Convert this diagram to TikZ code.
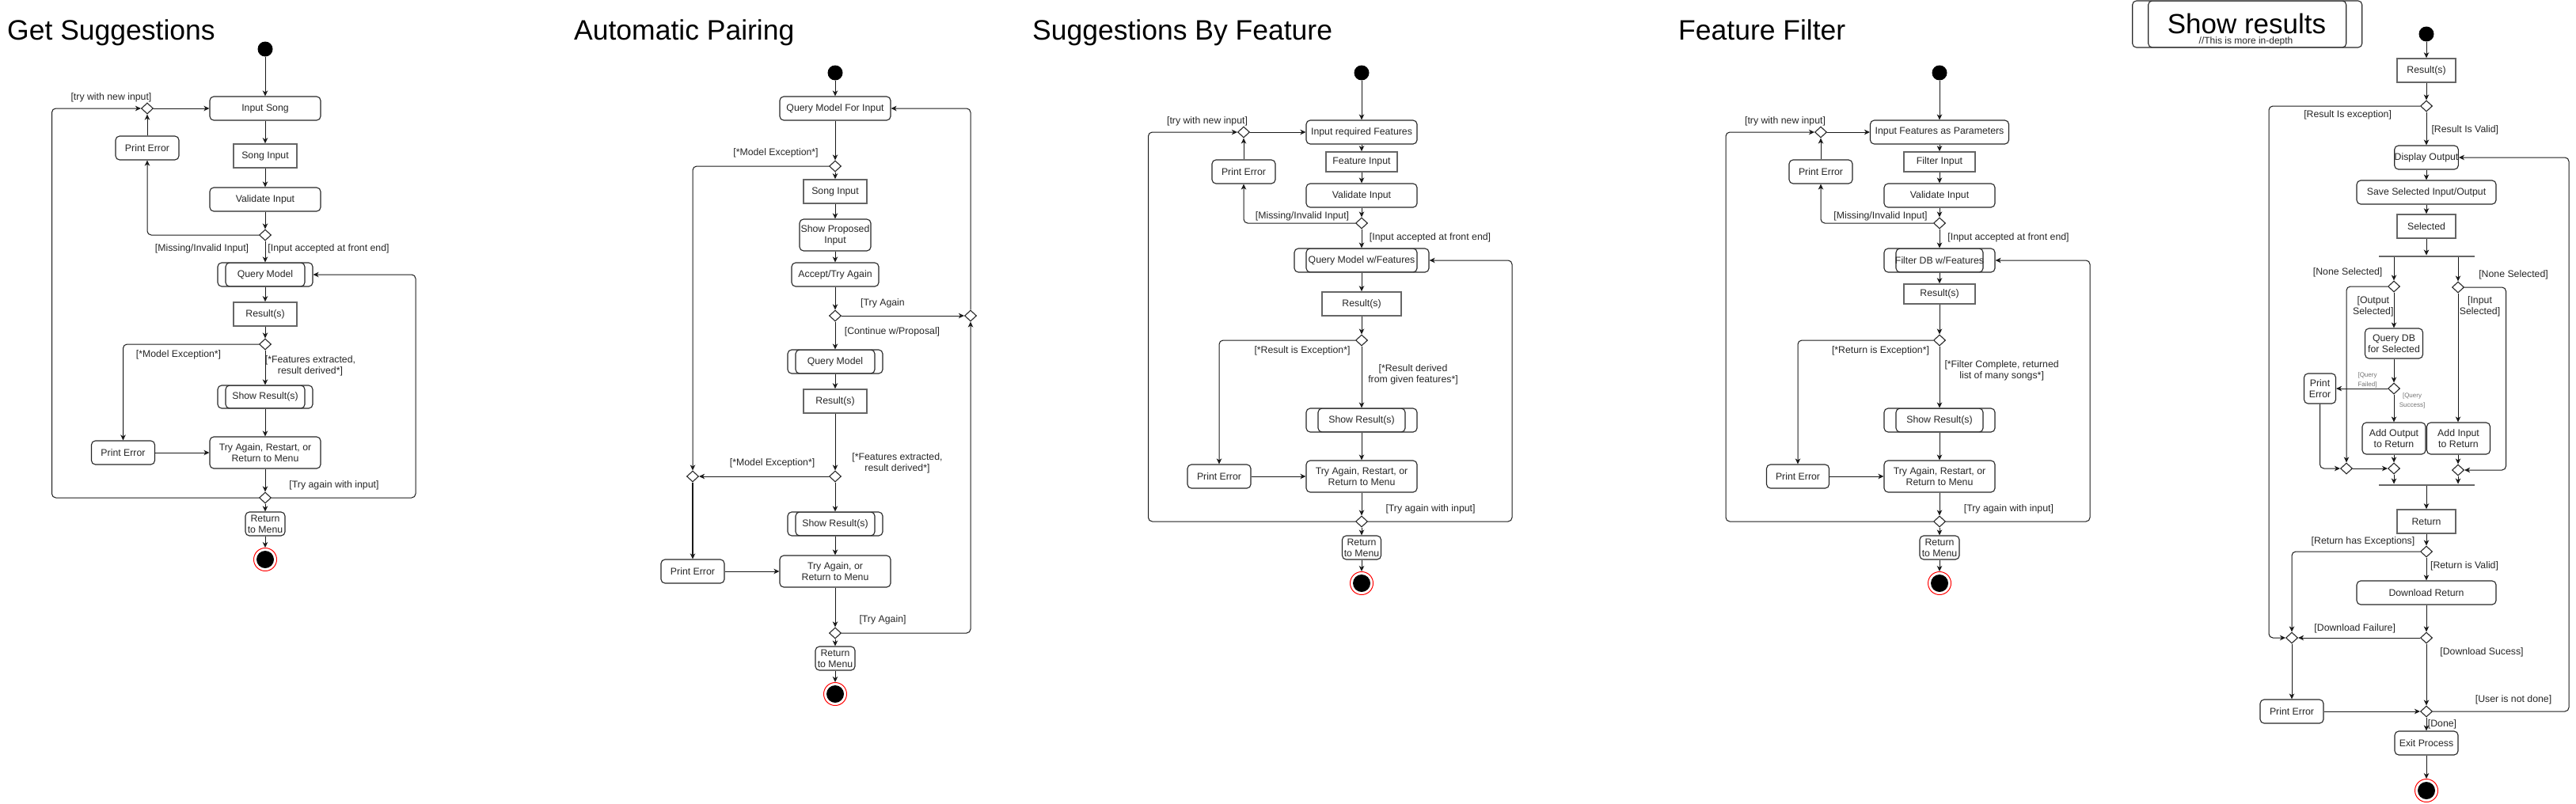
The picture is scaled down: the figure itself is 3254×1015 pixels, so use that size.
\documentclass[tikz,border=0pt]{standalone}
\usepackage{fontspec}
\setmainfont{Liberation Sans}
\usetikzlibrary{shapes.geometric,arrows.meta}
\begin{document}
\begin{tikzpicture}[x=1pt,y=-1pt,
  txt/.style={font=\fontsize{12.3}{14}\selectfont, text=black!85, align=center},
  act/.style={txt, draw=black!85, line width=1.1pt, rounded corners=5pt, fill=white, inner sep=0pt},
  obj/.style={txt, draw=black!60, line width=1.6pt, fill=white, inner sep=0pt},
  wh/.style 2 args={minimum width=#1pt, minimum height=#2pt},
  sub/.style={act, path picture={\draw[line width=1.1pt, draw=black!85, rounded corners=5pt] ([xshift=#1pt]path picture bounding box.north west) rectangle ([xshift=-#1pt]path picture bounding box.south east);}},
  dec/.style={diamond, draw=black!85, line width=1.1pt, fill=white, minimum width=15pt, minimum height=14pt, inner sep=0pt},
  startnode/.style={circle, fill=black, minimum size=19pt, inner sep=0pt},
  endnode/.style={circle, draw=red, line width=1pt, fill=white, minimum size=29pt, inner sep=0pt, path picture={\fill[black] (path picture bounding box.center) circle (11pt);}},
  forkbar/.style={rectangle, fill=black!60, minimum height=2.5pt, inner sep=0pt},
  glabel/.style={txt, inner sep=0pt},
  tinylbl/.style={font=\fontsize{8}{12}\selectfont, text=black!55, align=center, inner sep=0pt},
  ttl/.style={font=\fontsize{35.5}{40}\selectfont, anchor=base west, inner sep=0pt},
  arr/.style={draw=black!90, line width=1pt, -{Stealth[length=7pt,width=6.5pt,inset=2pt]}},
  rc/.style={rounded corners=5pt}
]
\useasboundingbox (0,0) rectangle (3254,1015);

% ================= Diagram 1: Get Suggestions =================
\node[ttl] (t1) at (9,50) {Get Suggestions};
\node[startnode] (s1) at (335,62) {};
\node[act, wh={140}{30}] (a1) at (335,137) {Input Song};
\node[dec] (m1) at (186,137) {};
\node[obj, wh={80}{30}] (b1) at (335,197) {Song Input};
\node[act, wh={80}{30}] (pe1) at (186,187) {Print Error};
\node[act, wh={140}{30}] (v1) at (335,252) {Validate Input};
\node[dec] (d1) at (335,297) {};
\node[sub=10, wh={120}{30}] (q1) at (335,347) {Query Model};
\node[obj, wh={80}{30}] (r1) at (335,397) {Result(s)};
\node[dec] (d1b) at (335,435) {};
\node[sub=10, wh={120}{29}] (sr1) at (335,501.5) {Show Result(s)};
\node[act, wh={80}{30}] (pe1b) at (155.5,572) {Print Error};
\node[act, wh={140}{40}] (ta1) at (335,572) {Try Again, Restart, or\\Return to Menu};
\node[dec] (d1c) at (335,629) {};
\node[act, wh={50}{30}] (rm1) at (335,662) {Return\\to Menu};
\node[endnode] (e1) at (335,707) {};

\node[glabel] (l1a) at (140.5,123) {[try with new input]};
\node[glabel] (l1b) at (255,314) {[Missing/Invalid Input]};
\node[glabel] (l1c) at (415,314) {[Input accepted at front end]};
\node[glabel] (l1d) at (225.5,448) {[*Model Exception*]};
\node[glabel] (l1e) at (392,462) {[*Features extracted,\\result derived*]};
\node[glabel] (l1f) at (422,613) {[Try again with input]};

\draw[arr] (s1) -- (a1);
\draw[arr] (m1) -- (a1);
\draw[arr] (a1) -- (b1);
\draw[arr] (b1) -- (v1);
\draw[arr] (v1) -- (d1);
\draw[arr, rc] (d1.west) -| (pe1.south);
\draw[arr] (pe1) -- (m1);
\draw[arr] (d1) -- (q1);
\draw[arr] (q1) -- (r1);
\draw[arr] (r1) -- (d1b);
\draw[arr, rc] (d1b.west) -| (pe1b.north);
\draw[arr] (d1b) -- (sr1);
\draw[arr] (sr1) -- (ta1);
\draw[arr] (pe1b) -- (ta1);
\draw[arr] (ta1) -- (d1c);
\draw[arr] (d1c) -- (rm1);
\draw[arr] (rm1) -- (e1);
\draw[arr, rc] (d1c.west) -| (65.5,137) -- (m1.west);
\draw[arr, rc] (d1c.east) -| (525,347) -- (q1.east);

% ================= Diagram 2: Automatic Pairing =================
\node[ttl] (t2) at (725,50) {Automatic Pairing};
\node[startnode] (s2) at (1055,92) {};
\node[act, wh={140}{30}] (a2) at (1055,137) {Query Model For Input};
\node[dec] (d2a) at (1055,210) {};
\node[obj, wh={80}{30}] (b2) at (1055,242) {Song Input};
\node[act, wh={90}{40}] (sp2) at (1055,297) {Show Proposed\\Input};
\node[act, wh={110}{30}] (at2) at (1055,347) {Accept/Try Again};
\node[dec] (d2b) at (1055,399) {};
\node[dec] (d2c) at (1226,399) {};
\node[sub=10, wh={120}{30}] (q2) at (1055,457) {Query Model};
\node[obj, wh={80}{30}] (r2) at (1055,507) {Result(s)};
\node[dec] (d2d) at (1055,602) {};
\node[dec] (m2) at (875,602) {};
\node[sub=10, wh={120}{30}] (sr2) at (1055,662) {Show Result(s)};
\node[act, wh={80}{30}] (pe2) at (875,722) {Print Error};
\node[act, wh={140}{40}] (ta2) at (1055,722) {Try Again, or\\Return to Menu};
\node[dec] (d2e) at (1055,800) {};
\node[act, wh={50}{30}] (rm2) at (1055,832) {Return\\to Menu};
\node[endnode] (e2) at (1055,877) {};

\node[glabel] (l2a) at (980,193) {[*Model Exception*]};
\node[glabel] (l2b) at (1115,383) {[Try Again};
\node[glabel] (l2c) at (1127,419) {[Continue w/Proposal]};
\node[glabel] (l2d) at (975.6,585) {[*Model Exception*]};
\node[glabel] (l2e) at (1133.5,585) {[*Features extracted,\\result derived*]};
\node[glabel] (l2f) at (1115,783) {[Try Again]};

\draw[arr] (s2) -- (a2);
\draw[arr] (a2) -- (d2a);
\draw[arr] (d2a) -- (b2);
\draw[arr, rc] (d2a.west) -| (m2.north);
\draw[arr] (b2) -- (sp2);
\draw[arr] (sp2) -- (at2);
\draw[arr] (at2) -- (d2b);
\draw[arr] (d2b) -- (d2c);
\draw[arr] (d2b) -- (q2);
\draw[arr] (q2) -- (r2);
\draw[arr] (r2) -- (d2d);
\draw[arr] (d2d) -- (m2);
\draw[arr] (d2d) -- (sr2);
\draw[arr] (sr2) -- (ta2);
\draw[arr, line width=1.5pt] (m2) -- (pe2);
\draw[arr] (pe2) -- (ta2);
\draw[arr] (ta2) -- (d2e);
\draw[arr] (d2e) -- (rm2);
\draw[arr] (rm2) -- (e2);
\draw[arr, rc] (d2e.east) -| (d2c.south);
\draw[arr, rc] (d2c.north) |- (a2.east);

% ================= Diagram 3: Suggestions By Feature =================
\node[ttl] (t3) at (1304,50) {Suggestions By Feature};
\node[startnode] (s3) at (1720,92) {};
\node[act, wh={140}{30}] (a3) at (1720,167) {Input required Features};
\node[dec] (m3) at (1571,167) {};
\node[obj, wh={90}{25}] (b3) at (1720,204.5) {Feature Input};
\node[act, wh={80}{30}] (pe3) at (1571,217) {Print Error};
\node[act, wh={140}{30}] (v3) at (1720,247) {Validate Input};
\node[dec] (d3) at (1720,282) {};
\node[sub=15, wh={170}{30}] (q3) at (1720,329) {Query Model w/Features};
\node[obj, wh={100}{30}] (r3) at (1720,384) {Result(s)};
\node[dec] (d3b) at (1720,430) {};
\node[sub=15, wh={140}{30}] (sr3) at (1720,531) {Show Result(s)};
\node[act, wh={80}{30}] (pe3b) at (1540,602) {Print Error};
\node[act, wh={140}{40}] (ta3) at (1720,602) {Try Again, Restart, or\\Return to Menu};
\node[dec] (d3c) at (1720,659) {};
\node[act, wh={49}{30}] (rm3) at (1720,692) {Return\\to Menu};
\node[endnode] (e3) at (1720,737) {};

\node[glabel] (l3a) at (1525,153) {[try with new input]};
\node[glabel] (l3b) at (1645,273) {[Missing/Invalid Input]};
\node[glabel] (l3c) at (1806.5,300) {[Input accepted at front end]};
\node[glabel] (l3d) at (1645,443) {[*Result is Exception*]};
\node[glabel] (l3e) at (1785,473) {[*Result derived\\from given features*]};
\node[glabel] (l3f) at (1807,643) {[Try again with input]};

\draw[arr] (s3) -- (a3);
\draw[arr] (m3) -- (a3);
\draw[arr] (a3) -- (b3);
\draw[arr] (b3) -- (v3);
\draw[arr] (v3) -- (d3);
\draw[arr, rc] (d3.west) -| (pe3.south);
\draw[arr] (pe3) -- (m3);
\draw[arr] (d3) -- (q3);
\draw[arr] (q3) -- (r3);
\draw[arr] (r3) -- (d3b);
\draw[arr, rc] (d3b.west) -| (pe3b.north);
\draw[arr] (d3b) -- (sr3);
\draw[arr] (sr3) -- (ta3);
\draw[arr] (pe3b) -- (ta3);
\draw[arr] (ta3) -- (d3c);
\draw[arr] (d3c) -- (rm3);
\draw[arr] (rm3) -- (e3);
\draw[arr, rc] (d3c.west) -| (1450.5,167) -- (m3.west);
\draw[arr, rc] (d3c.east) -| (1910,329) -- (q3.east);

% ================= Diagram 4: Feature Filter =================
\node[ttl] (t4) at (2120,50) {Feature Filter};
\node[startnode] (s4) at (2450,92) {};
\node[act, wh={175}{30}] (a4) at (2450,167) {Input Features as Parameters};
\node[dec] (m4) at (2300,167) {};
\node[obj, wh={90}{25}] (b4) at (2450,204.5) {Filter Input};
\node[act, wh={80}{30}] (pe4) at (2300,217) {Print Error};
\node[act, wh={140}{30}] (v4) at (2450,247) {Validate Input};
\node[dec] (d4) at (2450,282) {};
\node[sub=15, wh={140}{30}] (q4) at (2450,329) {Filter DB w/Features};
\node[obj, wh={90}{25}] (r4) at (2450,371.5) {Result(s)};
\node[dec] (d4b) at (2450,430) {};
\node[sub=15, wh={140}{30}] (sr4) at (2450,531) {Show Result(s)};
\node[act, wh={79}{30}] (pe4b) at (2271,602) {Print Error};
\node[act, wh={140}{40}] (ta4) at (2450,602) {Try Again, Restart, or\\Return to Menu};
\node[dec] (d4c) at (2450,659) {};
\node[act, wh={50}{30}] (rm4) at (2450,692) {Return\\to Menu};
\node[endnode] (e4) at (2450,737) {};

\node[glabel] (l4a) at (2255,153) {[try with new input]};
\node[glabel] (l4b) at (2375.5,273) {[Missing/Invalid Input]};
\node[glabel] (l4c) at (2537,300) {[Input accepted at front end]};
\node[glabel] (l4d) at (2375.5,443) {[*Return is Exception*]};
\node[glabel] (l4e) at (2528.6,468) {[*Filter Complete, returned\\list of many songs*]};
\node[glabel] (l4f) at (2537.4,643) {[Try again with input]};

\draw[arr] (s4) -- (a4);
\draw[arr] (m4) -- (a4);
\draw[arr] (a4) -- (b4);
\draw[arr] (b4) -- (v4);
\draw[arr] (v4) -- (d4);
\draw[arr, rc] (d4.west) -| (pe4.south);
\draw[arr] (pe4) -- (m4);
\draw[arr] (d4) -- (q4);
\draw[arr] (q4) -- (r4);
\draw[arr] (r4) -- (d4b);
\draw[arr, rc] (d4b.west) -| (pe4b.north);
\draw[arr] (d4b) -- (sr4);
\draw[arr] (sr4) -- (ta4);
\draw[arr] (pe4b) -- (ta4);
\draw[arr] (ta4) -- (d4c);
\draw[arr] (d4c) -- (rm4);
\draw[arr] (rm4) -- (e4);
\draw[arr, rc] (d4c.west) -| (2180,167) -- (m4.west);
\draw[arr, rc] (d4c.east) -| (2640,329) -- (q4.east);

% ================= Diagram 5: Show results =================
\node[sub=20, wh={290}{59}] (t5) at (2838.7,30.5) {};
\node[font=\fontsize{35}{40}\selectfont, anchor=base, inner sep=0pt] (t5a) at (2838,42) {Show results};
\node[glabel, font=\fontsize{12}{13}\selectfont] (t5b) at (2837,52) {//This is more in-depth};

\node[startnode] (s5) at (3065,43) {};
\node[obj, wh={74}{30}] (r5) at (3065,89) {Result(s)};
\node[dec] (d5) at (3065,134) {};
\node[act, wh={80}{30}] (do5) at (3065,199) {Display Output};
\node[act, wh={176}{30}] (ss5) at (3065,243) {Save Selected Input/Output};
\node[obj, wh={74}{30}] (se5) at (3065,286) {Selected};
\node[forkbar, minimum width=121pt] (f5) at (3065.5,324) {};
\node[dec] (dl5) at (3024,362) {};
\node[dec] (dR5) at (3105,363) {};
\node[act, wh={73}{38}] (qd5) at (3024,434) {Query DB\\for Selected};
\node[dec] (dq5) at (3024,491) {};
\node[act, wh={40}{38}] (pe5) at (2930.5,491) {Print\\Error};
\node[act, wh={80}{40}] (ao5) at (3024,554) {Add Output\\to Return};
\node[act, wh={80}{40}] (ai5) at (3105.5,554) {Add Input\\to Return};
\node[dec] (ml5) at (2964,592) {};
\node[dec] (mo5) at (3024,592) {};
\node[dec] (mr5) at (3105,594) {};
\node[forkbar, minimum width=121pt] (j5) at (3065.5,613) {};
\node[obj, wh={74}{30}] (rt5) at (3065,659) {Return};
\node[dec] (d5b) at (3065,697) {};
\node[act, wh={176}{30}] (dw5) at (3065,749) {Download Return};
\node[dec] (d5c) at (3065,806) {};
\node[dec] (mf5) at (2895,806) {};
\node[act, wh={80}{30}] (pe5b) at (2895,899) {Print Error};
\node[dec] (d5d) at (3065,899) {};
\node[act, wh={80}{30}] (ex5) at (3065,939) {Exit Process};
\node[endnode] (e5) at (3065,999) {};

\node[glabel] (l5a) at (2965.6,145) {[Result Is exception]};
\node[glabel] (l5b) at (3113.8,164) {[Result Is Valid]};
\node[glabel] (l5c) at (2965.6,344) {[None Selected]};
\node[glabel] (l5d) at (3175,347) {[None Selected]};
\node[glabel] (l5e) at (2997.8,387) {[Output\\Selected]};
\node[glabel] (l5f) at (3132.5,387) {[Input\\Selected]};
\node[tinylbl] (l5g) at (2990.5,480) {[Query\\Failed]};
\node[tinylbl] (l5h) at (3047,506) {[Query\\Success]};
\node[glabel] (l5i) at (2985,684) {[Return has Exceptions]};
\node[glabel] (l5j) at (3113,715) {[Return is Valid]};
\node[glabel] (l5k) at (2974.7,794) {[Download Failure]};
\node[glabel] (l5l) at (3135,824) {[Download Sucess]};
\node[glabel] (l5m) at (3175,884) {[User is not done]};
\node[glabel] (l5n) at (3085,915) {[Done]};

\draw[arr] (s5) -- (r5);
\draw[arr] (r5) -- (d5);
\draw[arr] (d5) -- (do5);
\draw[arr, rc] (d5.west) -| (2866,806) -- (mf5.west);
\draw[arr] (do5) -- (ss5);
\draw[arr] (ss5) -- (se5);
\draw[arr] (se5.south) -- (se5.south |- f5.north);
\draw[arr] (f5.south -| dl5) -- (dl5);
\draw[arr] (f5.south -| dR5) -- (dR5);
\draw[arr, rc] (dl5.west) -| (ml5.north);
\draw[arr] (dl5) -- (qd5);
\draw[arr] (qd5) -- (dq5);
\draw[arr] (dq5) -- (pe5);
\draw[arr] (dq5) -- (ao5);
\draw[arr, rc] (pe5.south) |- (ml5.west);
\draw[arr] (ml5) -- (mo5);
\draw[arr] (ao5) -- (mo5);
\draw[arr, rc] (dR5.east) -| (3165.5,594) -- (mr5.east);
\draw[arr] (dR5) -- (dR5 |- ai5.north);
\draw[arr] (ai5.south -| mr5) -- (mr5);
\draw[arr] (mo5) -- (mo5 |- j5.north);
\draw[arr] (mr5) -- (mr5 |- j5.north);
\draw[arr] (j5.south -| rt5) -- (rt5);
\draw[arr] (rt5) -- (d5b);
\draw[arr, rc] (d5b.west) -| (mf5.north);
\draw[arr] (d5b) -- (dw5);
\draw[arr] (dw5) -- (d5c);
\draw[arr] (d5c) -- (mf5);
\draw[arr] (mf5) -- (pe5b);
\draw[arr] (pe5b) -- (d5d);
\draw[arr] (d5c) -- (d5d);
\draw[arr] (d5d) -- (ex5);
\draw[arr] (ex5) -- (e5);
\draw[arr, rc] (d5d.east) -| (3245,199) -- (do5.east);

\end{tikzpicture}
\end{document}
